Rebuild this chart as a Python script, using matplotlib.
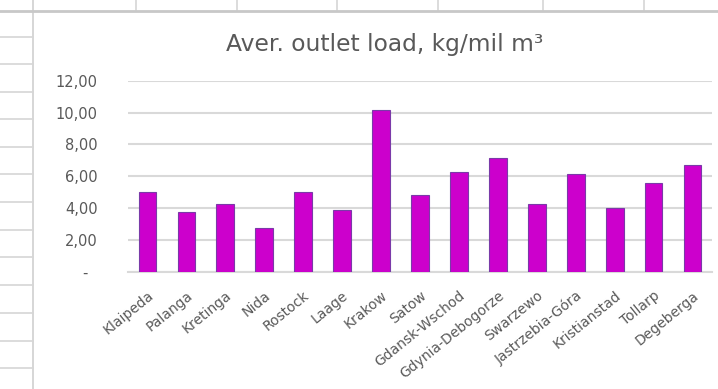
import matplotlib
matplotlib.use("Agg")
import matplotlib.pyplot as plt
from matplotlib.lines import Line2D
from matplotlib.patches import Rectangle

# Average outlet load per treatment plant
plants = ["Klaipeda", "Palanga", "Kretinga", "Nida", "Rostock", "Laage",
          "Krakow", "Satow", "Gdansk-Wschod", "Gdynia-Debogorze", "Swarzewo",
          "Jastrzebia-Góra", "Kristianstad", "Tollarp", "Degeberga"]
load = [5.01, 3.72, 4.28, 2.76, 5.01, 3.87, 10.15, 4.85, 6.28, 7.15, 4.28,
        6.16, 4.02, 5.60, 6.73]
y_ticks = [0, 2, 4, 6, 8, 10, 12]
y_tick_labels = ["-  ", "2,00", "4,00", "6,00", "8,00", "10,00", "12,00"]
title = "Aver. outlet load, kg/mil m³"

W, H, DPI = 718, 389, 100
fig = plt.figure(figsize=(W / DPI, H / DPI), dpi=DPI)
fig.patch.set_facecolor("white")

def fx(px):
    return px / W

def fy(py):
    return 1 - py / H

# worksheet cell grid behind the chart object
cell_color = "#d6d6d6"
row_lines = [37.3, 64.3, 91.7, 119, 146.7, 174, 201.7, 230, 257.3, 285,
             313.3, 340.7, 368.3]
col_lines = [136, 237, 337, 438, 543, 644]
for y in row_lines:
    fig.add_artist(Line2D([0, fx(33)], [fy(y), fy(y)], color=cell_color, lw=1.2))
for x in col_lines:
    fig.add_artist(Line2D([fx(x), fx(x)], [fy(0), fy(11)], color=cell_color, lw=1.2))
fig.add_artist(Line2D([fx(33), fx(33)], [0, 1], color=cell_color, lw=1.4))
fig.add_artist(Line2D([0, 1], [fy(11), fy(11)], color="#c8c8c8", lw=2.0))
fig.add_artist(Rectangle((fx(34), 0), 1 - fx(34), fy(12.5), transform=fig.transFigure,
                         facecolor="white", edgecolor="none", zorder=1))

ax = fig.add_axes([fx(128), fy(271.7), fx(712) - fx(128), (271.7 - 80.7) / H])
ax.set_zorder(2)
ax.patch.set_alpha(0)

x = range(len(plants))
ax.bar(x, load, width=0.455, color="#cc00cc", edgecolor="#7a3aa8", linewidth=0.8,
       zorder=3)

ax.set_xlim(-0.5, len(plants) - 0.5)
ax.set_ylim(0, 12)
ax.set_yticks(y_ticks)
ax.set_yticklabels(y_tick_labels)
ax.yaxis.grid(True, color="#d9d9d9", linewidth=1.5)
ax.set_axisbelow(True)
for s in ["top", "right", "left"]:
    ax.spines[s].set_visible(False)
ax.spines["bottom"].set_color("#d9d9d9")
ax.spines["bottom"].set_linewidth(1.5)

text_color = "#595959"
ax.tick_params(axis="y", length=0, pad=22, labelsize=10.5, labelcolor=text_color)
ax.tick_params(axis="x", length=0, pad=12, labelsize=10, labelcolor=text_color)
ax.set_xticks(list(x))
ax.set_xticklabels(plants, rotation=39, ha="right", rotation_mode="anchor")

fig.text(fx(385), fy(45), title, ha="center", va="center", fontsize=16.8,
         color=text_color, zorder=5)

fig.savefig("out.png", dpi=DPI)
